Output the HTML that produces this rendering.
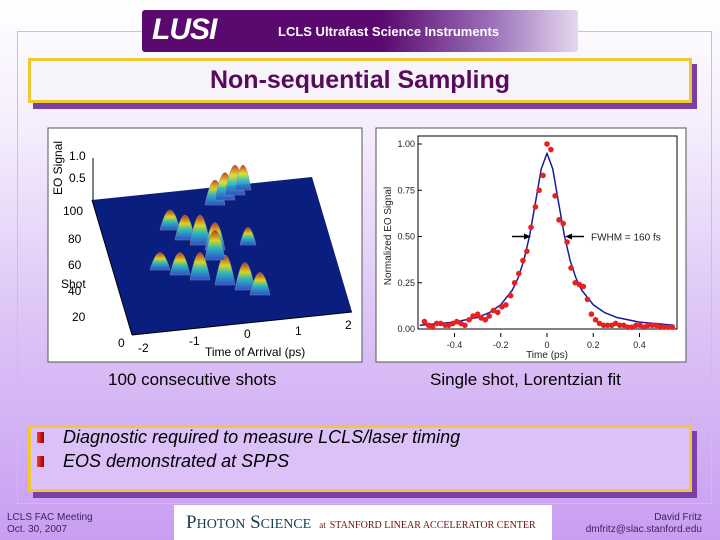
<!DOCTYPE html>
<html><head><meta charset="utf-8"><style>
*{margin:0;padding:0;box-sizing:border-box}
body{width:720px;height:540px;overflow:hidden;position:relative;font-family:"Liberation Sans",sans-serif;background:linear-gradient(to bottom,#ffffff 0%,#f4ecfc 25%,#dcc4f6 60%,#c99ef2 100%)}
.abs{position:absolute}
</style></head><body>
<div class="abs" style="left:17px;top:31px;width:695px;height:473px;border:1px solid #e8c860"></div>
<div class="abs" style="left:142px;top:10px;width:436px;height:42px;border-radius:3px;background:linear-gradient(to right,#5a0a6e 0%,#5a0a6e 55%,#9a70b8 80%,#e4d8ee 100%)">
 <span class="abs" style="left:10px;top:3px;color:#fff;font:italic bold 30px 'Liberation Sans Narrow','Liberation Sans',sans-serif;letter-spacing:-1px">LUSI</span>
 <span class="abs" style="left:136px;top:14px;color:#fff;font:bold 13px 'Liberation Sans Narrow','Liberation Sans',sans-serif">LCLS Ultrafast Science Instruments</span>
</div>
<div class="abs" style="left:33px;top:64px;width:664px;height:45px;background:#7a40a8"></div>
<div class="abs" style="left:28px;top:58px;width:664px;height:45px;background:#f6f4f8;border:3px solid #f0c830;text-align:center;font:bold 25px 'Liberation Sans',sans-serif;color:#5a0a5e;line-height:39px">Non-sequential Sampling</div>

<svg class="abs" style="left:0;top:0" width="720" height="540">
 <defs>
  <linearGradient id="pk" x1="0" y1="1" x2="0" y2="0"><stop offset="0" stop-color="#3050d0"/><stop offset="0.4" stop-color="#30c0c0"/><stop offset="0.65" stop-color="#e0e020"/><stop offset="1" stop-color="#d03010"/></linearGradient>
 </defs>
 <rect x="48" y="128" width="314" height="234" fill="#fff" stroke="#555"/>
 <g>
  <polygon points="92,200 312,177 352,312 132,335" fill="#0a1e80"/>
  <line x1="92" y1="200" x2="132" y2="335" stroke="#000"/>
  <line x1="132" y1="335" x2="352" y2="312" stroke="#000"/>
  <line x1="93" y1="158" x2="93" y2="200" stroke="#000"/>
  <g fill="url(#pk)" stroke="#8090a0" stroke-width="0.5" opacity="0.95">
   <path d="M205,205 q10,-50 20,0z"/><path d="M215,200 q10,-55 20,0z"/><path d="M225,195 q10,-60 20,0z"/><path d="M235,190 q8,-50 16,0z"/>
   <path d="M160,230 q10,-40 20,0z"/><path d="M175,240 q10,-50 20,0z"/><path d="M190,245 q10,-60 20,0z"/><path d="M205,250 q10,-55 20,0z"/>
   <path d="M240,245 q8,-35 16,0z"/><path d="M150,270 q10,-35 20,0z"/><path d="M170,275 q10,-45 20,0z"/><path d="M190,280 q10,-55 20,0z"/>
   <path d="M215,285 q10,-60 20,0z"/><path d="M235,290 q10,-55 20,0z"/><path d="M250,295 q10,-45 20,0z"/><path d="M205,260 q10,-60 20,0z"/>
  </g>
 </g>
 <g font-family="Liberation Sans" font-size="12" fill="#000">
  <text x="62" y="195" transform="rotate(-90 62 195)">EO Signal</text>
  <text x="69" y="160">1.0</text><text x="69" y="182">0.5</text>
  <text x="63" y="215">100</text><text x="68" y="243">80</text><text x="68" y="269">60</text>
  <text x="61" y="288">Shot</text>
  <text x="68" y="295">40</text><text x="72" y="321">20</text><text x="118" y="347">0</text>
  <text x="138" y="352">-2</text><text x="189" y="345">-1</text><text x="244" y="338">0</text><text x="295" y="335">1</text><text x="345" y="329">2</text>
  <text x="205" y="356">Time of Arrival (ps)</text>
 </g>
 <rect x="376" y="128" width="310" height="234" fill="#fff" stroke="#555"/>
 <g id="chart"></g>
</svg>

<div class="abs" style="left:108px;top:370px;font-size:17px">100 consecutive shots</div>
<div class="abs" style="left:430px;top:370px;font-size:17px">Single shot, Lorentzian fit</div>

<div class="abs" style="left:33px;top:431px;width:664px;height:67px;background:#7a40a8"></div>
<div class="abs" style="left:28px;top:425px;width:664px;height:67px;background:#dcc0f8;border:3px solid #f0c830"></div>
<div class="abs" style="left:37px;top:432px;width:7px;height:11px;background:linear-gradient(to right,#f04030,#a00000)"></div>
<div class="abs" style="left:63px;top:427px;font:italic 18px 'Liberation Sans',sans-serif">Diagnostic required to measure LCLS/laser timing</div>
<div class="abs" style="left:37px;top:456px;width:7px;height:11px;background:linear-gradient(to right,#f04030,#a00000)"></div>
<div class="abs" style="left:63px;top:451px;font:italic 18px 'Liberation Sans',sans-serif">EOS demonstrated at SPPS</div>

<div class="abs" style="left:7px;top:512px;font-size:10px;line-height:12px;color:#402060">LCLS FAC Meeting<br>Oct. 30, 2007</div>
<div class="abs" style="left:174px;top:505px;width:378px;height:35px;background:#fff;font-family:'Liberation Serif',serif;color:#1a4050;padding:7px 0 0 12px;white-space:nowrap">
 <span style="font-size:19px">P<span style="font-size:14px">HOTON</span> S<span style="font-size:14px">CIENCE</span></span>
 <span style="font-size:9px;color:#6a1010;margin-left:4px">at</span>
 <span style="font-size:10px;color:#6a1010">STANFORD LINEAR ACCELERATOR CENTER</span>
</div>
<div class="abs" style="right:18px;top:512px;font-size:10px;line-height:12px;color:#402060;text-align:right">David Fritz<br>dmfritz@slac.stanford.edu</div>

<script>
const xTicks=[-0.4,-0.2,0,0.2,0.4];
const xTickLabels=["-0.4","-0.2","0","0.2","0.4"];
const yTicks=[0,0.25,0.5,0.75,1.0];
const yTickLabels=["0.00","0.25","0.50","0.75","1.00"];
const pointX=[-0.53,-0.512,-0.495,-0.477,-0.46,-0.44,-0.425,-0.407,-0.39,-0.372,-0.355,-0.337,-0.32,-0.30,-0.285,-0.267,-0.25,-0.232,-0.213,-0.195,-0.178,-0.157,-0.14,-0.122,-0.104,-0.087,-0.069,-0.05,-0.034,-0.017,0,0.017,0.035,0.052,0.07,0.087,0.104,0.122,0.14,0.157,0.175,0.192,0.21,0.227,0.245,0.262,0.28,0.297,0.315,0.332,0.35,0.367,0.385,0.402,0.42,0.437,0.455,0.472,0.49,0.507,0.525,0.542];
const pointY=[0.04,0.02,0.01,0.03,0.03,0.02,0.02,0.03,0.04,0.03,0.02,0.05,0.07,0.08,0.06,0.05,0.07,0.10,0.09,0.12,0.13,0.18,0.25,0.30,0.37,0.42,0.55,0.66,0.75,0.83,1.00,0.97,0.72,0.59,0.57,0.47,0.33,0.25,0.24,0.23,0.16,0.08,0.05,0.03,0.02,0.02,0.02,0.03,0.02,0.02,0.01,0.01,0.02,0.02,0.01,0.02,0.02,0.02,0.01,0.01,0.01,0.01];
const fitX=[-0.55,-0.4,-0.3,-0.25,-0.2,-0.15,-0.125,-0.1,-0.075,-0.05,-0.025,0,0.025,0.05,0.075,0.1,0.125,0.15,0.2,0.25,0.3,0.4,0.55];
const fitY=[0.02,0.037,0.063,0.088,0.131,0.21,0.276,0.371,0.506,0.683,0.865,0.95,0.865,0.683,0.506,0.371,0.276,0.21,0.131,0.088,0.063,0.037,0.02];
const X0=418,X1=677,Y0=329,Y1=144;
function sx(v){return 547+v*(92.5/0.4);}
function sy(v){return Y0+(Y1-Y0)*v;}
const NS='http://www.w3.org/2000/svg';
const g=document.getElementById('chart');
function el(t,a,p){const e=document.createElementNS(NS,t);for(const k in a)e.setAttribute(k,a[k]);(p||g).appendChild(e);return e;}
const ax=el('rect',{x:X0,y:Y1-8,width:X1-X0,height:Y0-Y1+8,fill:'none',stroke:'#000','stroke-width':1});


xTicks.forEach((t,i)=>{
 el('line',{x1:sx(t),x2:sx(t),y1:Y0+8,y2:Y0+4,stroke:'#000'});
 const tx=el('text',{x:sx(t),y:Y0+19,'text-anchor':'middle','font-size':9,'font-family':'Liberation Sans',fill:'#222'});
 tx.textContent=xTickLabels[i];
 
 
});
yTicks.forEach((t,i)=>{
 el('line',{x1:X0,x2:X0+4,y1:sy(t),y2:sy(t),stroke:'#000'});
 const tx=el('text',{x:X0-3,y:sy(t)+3,'text-anchor':'end','font-size':9,'font-family':'Liberation Sans',fill:'#222'});
 tx.textContent=yTickLabels[i];
 
 
});
const xt=el('text',{x:sx(0),y:358,'text-anchor':'middle','font-size':10,'font-family':'Liberation Sans',fill:'#222'});
xt.textContent='Time (ps)';


const yt=el('text',{x:391,y:236,'text-anchor':'middle','font-size':10,'font-family':'Liberation Sans',fill:'#222',transform:'rotate(-90 391 236)'});
yt.textContent='Normalized EO Signal';


const fl=el('polyline',{points:fitX.map((x,i)=>sx(x)+','+sy(fitY[i])).join(' '),fill:'none',stroke:'#1a1a9a','stroke-width':1.5,'stroke-linejoin':'round'});


pointX.forEach((x,i)=>{
 const c=el('circle',{cx:sx(x),cy:sy(pointY[i]),r:2.8,fill:'#e82020'});
 
 
});
const ay=sy(0.5);
el('line',{x1:512,x2:527,y1:ay,y2:ay,stroke:'#000','stroke-width':1.5});
el('polygon',{points:`531,${ay} 524,${ay-3} 524,${ay+3}`,fill:'#000'});
el('line',{x1:569,x2:584,y1:ay,y2:ay,stroke:'#000','stroke-width':1.5});
el('polygon',{points:`565,${ay} 572,${ay-3} 572,${ay+3}`,fill:'#000'});
const ft=el('text',{x:591,y:ay+4,'font-size':10,'font-family':'Liberation Sans',fill:'#222'});
ft.textContent='FWHM = 160 fs';


</script>
</body></html>
